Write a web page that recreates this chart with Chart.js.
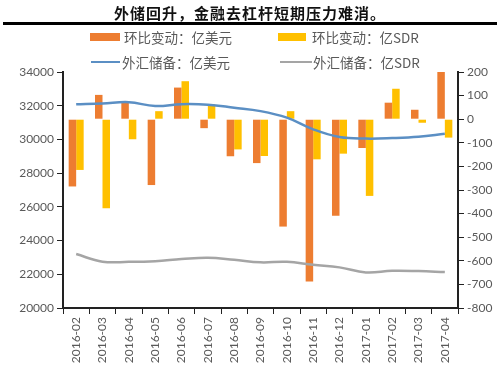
<!DOCTYPE html>
<html>
<head>
<meta charset="utf-8">
<script src="https://cdn.jsdelivr.net/npm/chart.js@4.4.1/dist/chart.umd.min.js"></script>
<style>
  html, body { margin: 0; padding: 0; background: #fff; }
  #wrap { position: relative; width: 500px; height: 372px; overflow: hidden; }
  #chart { position: absolute; left: 0; top: 0; }
  .title {
    position: absolute; left: 0; top: 3px; width: 500px; text-align: center;
    font: bold 15px "Noto Sans CJK SC", sans-serif; letter-spacing: 1px; color: #111; line-height: 20px;
  }
  .rule { position: absolute; left: 3px; top: 22px; width: 494px; height: 3px; background: #000; }
  .lg { position: absolute; font: 13.5px "Noto Sans CJK SC", sans-serif; color: #595959; line-height: 16px; white-space: nowrap; }
  .sw { position: absolute; }
</style>
</head>
<body>
<div id="wrap">
  <canvas id="chart" width="500" height="372"></canvas>
  <div class="title">外储回升，金融去杠杆短期压力难消。</div>
  <div class="rule"></div>
  <div class="sw" style="left:90px;top:33px;width:30px;height:8px;background:#ED7D31"></div>
  <div class="lg" style="left:124px;top:29px">环比变动：亿美元</div>
  <div class="sw" style="left:278px;top:33px;width:28px;height:8px;background:#FFC000"></div>
  <div class="lg" style="left:312px;top:29px">环比变动：亿SDR</div>
  <div class="sw" style="left:91px;top:61px;width:29px;height:2px;background:#5B8FC4"></div>
  <div class="lg" style="left:122px;top:54px">外汇储备：亿美元</div>
  <div class="sw" style="left:280px;top:61px;width:32px;height:2px;background:#A5A5A5"></div>
  <div class="lg" style="left:313px;top:54px">外汇储备：亿SDR</div>
</div>
<script>
const months = ["2016-02", "2016-03", "2016-04", "2016-05", "2016-06", "2016-07", "2016-08", "2016-09",
  "2016-10", "2016-11", "2016-12", "2017-01", "2017-02", "2017-03", "2017-04"];

// month-on-month change (right axis)
const changeUsd = [-285, 103, 71, -279, 134, -38, -157, -186, -455, -688, -409, -122, 70, 40, 202];
const changeSdr = [-215, -377, -85, 34, 161, 63, -128, -156, 34, -170, -146, -325, 129, -15, -78];

// reserves level (left axis)
const reservesUsd = [32080, 32130, 32210, 31980, 32090, 32060, 31880, 31680, 31290, 30600, 30140, 30050, 30080, 30160, 30340];
const reservesSdr = [23200, 22750, 22740, 22780, 22900, 22980, 22860, 22710, 22740, 22560, 22410, 22110, 22210, 22190, 22130];

const tickFont = { family: "Lato, 'Open Sans', sans-serif", size: 12 };
const tickColor = "#595959";
const plain = (v) => String(v);

new Chart(document.getElementById("chart").getContext("2d"), {
  type: "bar",
  data: {
    labels: months,
    datasets: [
      { type: "bar", label: "环比变动：亿美元", data: changeUsd, yAxisID: "y1", backgroundColor: "#ED7D31",
        categoryPercentage: 0.57, barPercentage: 1, order: 2 },
      { type: "bar", label: "环比变动：亿SDR", data: changeSdr, yAxisID: "y1", backgroundColor: "#FFC000",
        categoryPercentage: 0.57, barPercentage: 1, order: 2 },
      { type: "line", label: "外汇储备：亿美元", data: reservesUsd, yAxisID: "y", borderColor: "#5B8FC4",
        borderWidth: 2.5, pointRadius: 0, tension: 0.4, fill: false, order: 0 },
      { type: "line", label: "外汇储备：亿SDR", data: reservesSdr, yAxisID: "y", borderColor: "#A5A5A5",
        borderWidth: 2.5, pointRadius: 0, tension: 0.4, fill: false, order: 1 },
    ],
  },
  options: {
    responsive: false,
    animation: false,
    devicePixelRatio: 1,
    layout: { padding: { top: 72, left: 0, right: 0, bottom: 0 } },
    plugins: { legend: { display: false }, tooltip: { enabled: false } },
    scales: {
      x: {
        offset: true,
        grid: { drawOnChartArea: false, drawTicks: true, tickLength: 6, color: "#222", offset: true },
        border: { color: "#222", width: 2 },
        ticks: { minRotation: 90, maxRotation: 90, autoSkip: false, font: tickFont, color: tickColor, padding: 3 },
        afterFit: (s) => { s.height = 64; },
      },
      y: {
        position: "left",
        min: 20000, max: 34000,
        grid: { drawOnChartArea: false, drawTicks: true, tickLength: 6, color: "#222" },
        border: { color: "#222", width: 2 },
        ticks: { stepSize: 2000, font: tickFont, color: tickColor, padding: 3, callback: plain },
        afterFit: (s) => { s.width = 63; },
      },
      y1: {
        position: "right",
        min: -800, max: 200,
        grid: { drawOnChartArea: false, drawTicks: true, tickLength: 6, color: "#222" },
        border: { color: "#222", width: 2 },
        ticks: { stepSize: 100, font: tickFont, color: tickColor, padding: 3, callback: plain },
        afterFit: (s) => { s.width = 42; },
      },
    },
  },
});
</script>
</body>
</html>
